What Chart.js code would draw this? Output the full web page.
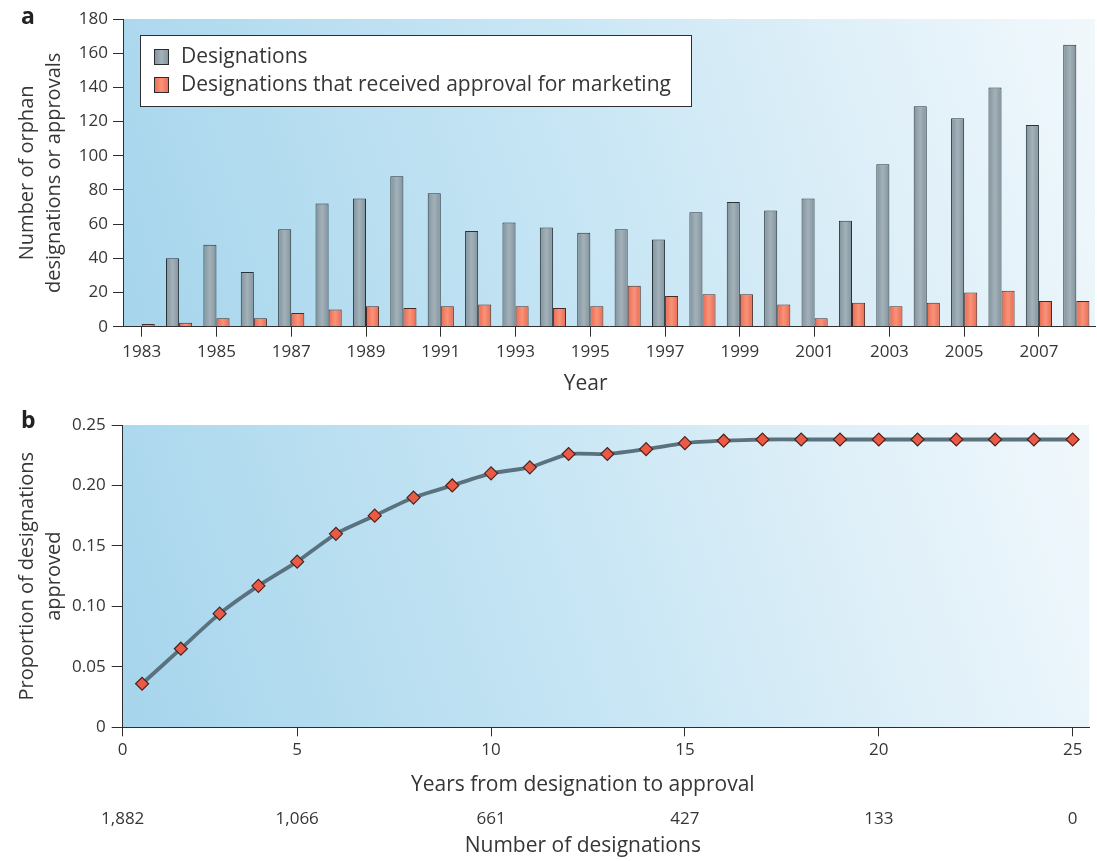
<!DOCTYPE html>
<html>
<head>
<meta charset="utf-8">
<title>Orphan designations and approvals</title>
<script src="https://cdn.jsdelivr.net/npm/chart.js@4.4.1/dist/chart.umd.min.js"></script>
<style>
  html, body { margin: 0; padding: 0; background: #ffffff; }
  #wrap { position: relative; width: 1097px; height: 861px; overflow: hidden; }
  .panel { position: absolute; left: 0; width: 1097px; }
  #panelA { top: 0; height: 400px; }
  #panelB { top: 400px; height: 461px; }
  .tag { position: absolute; font: bold 23px "Open Sans", sans-serif; line-height: 23px; color: #222; }
</style>
</head>
<body>
<div id="wrap">
  <div class="panel" id="panelA"><canvas id="chartA"></canvas></div>
  <div class="panel" id="panelB"><canvas id="chartB"></canvas></div>
  <div class="tag" style="left:21px;top:4px">a</div>
  <div class="tag" style="left:21px;top:408px">b</div>
</div>
<script>
// ---- Panel a: orphan designations per year ----
const years = ['1983','1984','1985','1986','1987','1988','1989','1990','1991','1992','1993','1994','1995',
               '1996','1997','1998','1999','2000','2001','2002','2003','2004','2005','2006','2007','2008'];
const designations = [0, 40, 48, 32, 57, 72, 75, 88, 78, 56, 61, 58, 55, 57, 51, 67, 73, 68, 75, 62, 95, 129, 122, 140, 118, 165];
const approvals    = [1.6, 2.3, 5, 5, 8, 10, 12, 11, 12, 13, 12, 11, 12, 24, 18, 19, 19, 13, 5, 14, 12, 14, 20, 21, 15, 15];
const countTicks   = [0, 20, 40, 60, 80, 100, 120, 140, 160, 180];

// ---- Panel b: cumulative proportion approved ----
const yearsToApproval = [1, 2, 3, 4, 5, 6, 7, 8, 9, 10, 11, 12, 13, 14, 15, 16, 17, 18, 19, 20, 21, 22, 23, 24, 25];
const proportionApproved = [0.036, 0.065, 0.094, 0.117, 0.137, 0.160, 0.175, 0.190, 0.200, 0.210, 0.215, 0.226, 0.226,
                            0.230, 0.235, 0.237, 0.238, 0.238, 0.238, 0.238, 0.238, 0.238, 0.238, 0.238, 0.238];
const yearTicks = [0, 5, 10, 15, 20, 25];
const designationCounts = ['1,882', '1,066', '661', '427', '133', '0'];
const proportionTicks = [0, 0.05, 0.10, 0.15, 0.20, 0.25];

const INK = '#363636';
const AXIS = '#2e2e2e';
const FAMILY = '"Open Sans", "DejaVu Sans", sans-serif';

Chart.defaults.font.family = FAMILY;
Chart.defaults.color = INK;
Chart.defaults.animation = false;

const tickFont = { size: 17 };
const titleFont = { size: 20, lineHeight: 1.35 };

// light blue wash behind each plot area
const plotBackground = {
  id: 'plotBackground',
  beforeDraw(chart) {
    const { ctx, chartArea: a } = chart;
    const g = ctx.createLinearGradient(a.left, a.bottom, a.right, a.top);
    g.addColorStop(0, '#a6d5ec');
    g.addColorStop(0.45, '#c6e5f4');
    g.addColorStop(0.8, '#e2f1f9');
    g.addColorStop(1, '#f1f8fc');
    ctx.save();
    ctx.fillStyle = g;
    ctx.fillRect(a.left, a.top, a.right - a.left, a.bottom - a.top);
    ctx.restore();
  }
};

// axis captions placed along the bottom of a panel
const captions = {
  id: 'captions',
  afterDraw(chart, args, opts) {
    const { ctx, chartArea: a } = chart;
    ctx.save();
    ctx.fillStyle = INK;
    ctx.textAlign = 'center';
    ctx.textBaseline = 'middle';
    ctx.font = opts.size + 'px ' + FAMILY;
    const cx = a.left + opts.centre * (a.right - a.left);
    opts.items.forEach(it => ctx.fillText(it.text, cx, it.y));
    ctx.restore();
  }
};

const greyShade = ['#82939d', '#a3b1b9'];
const orangeShade = ['#e96a50', '#f8937a'];

function swatchGradient(ctx, x, w, shade) {
  const g = ctx.createLinearGradient(x, 0, x + w, 0);
  g.addColorStop(0, shade[0]);
  g.addColorStop(0.5, shade[1]);
  g.addColorStop(1, shade[0]);
  return g;
}

// cylinder-like shading across each bar, from the bar's own geometry
const barShading = {
  id: 'barShading',
  beforeDatasetsDraw(chart) {
    const shades = [greyShade, orangeShade];
    chart.data.datasets.forEach((ds, di) => {
      chart.getDatasetMeta(di).data.forEach(el => {
        const { x, width } = el.getProps(['x', 'width'], true);
        el.options.backgroundColor = swatchGradient(chart.ctx, x - width / 2, width, shades[di]);
      });
    });
  }
};

// boxed legend inside the plot area of panel a
const boxLegend = {
  id: 'boxLegend',
  afterDatasetsDraw(chart) {
    const { ctx, chartArea: a } = chart;
    const x = a.left + 17, y = a.top + 16, w = 551, h = 71;
    ctx.save();
    ctx.fillStyle = '#ffffff';
    ctx.fillRect(x, y, w, h);
    ctx.strokeStyle = AXIS;
    ctx.lineWidth = 1;
    ctx.strokeRect(x + 0.5, y + 0.5, w, h);
    const shades = [greyShade, orangeShade];
    ctx.font = '21px ' + FAMILY;
    ctx.textBaseline = 'middle';
    chart.data.datasets.forEach((ds, i) => {
      const cy = y + 22 + i * 28;
      const sx = x + 14, sw = 15, sh = 16;
      ctx.fillStyle = swatchGradient(ctx, sx, sw, shades[i]);
      ctx.fillRect(sx, cy - sh / 2, sw, sh);
      ctx.strokeStyle = '#2b2b2b';
      ctx.strokeRect(sx + 0.5, cy - sh / 2 + 0.5, sw - 1, sh - 1);
      ctx.fillStyle = INK;
      ctx.fillText(ds.label, x + 41, cy);
    });
    ctx.restore();
  }
};

new Chart(document.getElementById('chartA'), {
  type: 'bar',
  data: {
    labels: years,
    datasets: [
      { label: 'Designations', data: designations, backgroundColor: () => greyShade[1],
        borderColor: '#27333a', borderWidth: 1, borderSkipped: 'bottom' },
      { label: 'Designations that received approval for marketing', data: approvals,
        backgroundColor: () => orangeShade[1], borderColor: '#4a2a22', borderWidth: 1, borderSkipped: 'bottom' }
    ]
  },
  options: {
    responsive: true,
    maintainAspectRatio: false,
    layout: { padding: { top: 19, right: 2, left: 0, bottom: 0 } },
    datasets: { bar: { categoryPercentage: 0.7, barPercentage: 1.0 } },
    plugins: {
      legend: { display: false }, tooltip: { enabled: false },
      captions: { size: 21, centre: 0.476, items: [{ text: 'Year', y: 384 }] }
    },
    scales: {
      x: {
        grid: { drawOnChartArea: false, drawTicks: true, tickLength: 10, offset: false, color: AXIS },
        border: { display: true, color: AXIS, width: 1 },
        ticks: { autoSkip: false, maxRotation: 0, padding: 5, font: tickFont,
                 callback: (v, i) => (i % 2 === 0 ? years[i] : null) },
        afterFit: (s) => { s.height = 73.3; }
      },
      y: {
        min: 0, max: 180,
        afterBuildTicks: (s) => { s.ticks = countTicks.map(v => ({ value: v })); },
        grid: { drawOnChartArea: false, drawTicks: true, tickLength: 10, color: AXIS },
        border: { display: true, color: AXIS, width: 1 },
        ticks: { padding: 5, font: tickFont },
        title: { display: true, text: ['Number of orphan', 'designations or approvals'], font: titleFont,
                 padding: { top: 14, bottom: 0 } },
        afterFit: (s) => { s.width = 123; }
      }
    }
  },
  plugins: [plotBackground, barShading, boxLegend, captions]
});

new Chart(document.getElementById('chartB'), {
  type: 'line',
  data: {
    datasets: [{
      label: 'Proportion of designations approved',
      data: yearsToApproval.map((t, i) => ({ x: t, y: proportionApproved[i] })),
      borderColor: '#5a717e',
      borderWidth: 3.8,
      tension: 0.2,
      pointStyle: 'rectRot',
      pointRadius: 6.5,
      pointBackgroundColor: '#eb5a46',
      pointBorderColor: '#4b241d',
      pointBorderWidth: 1.2
    }]
  },
  options: {
    responsive: true,
    maintainAspectRatio: false,
    layout: { padding: { top: 25, right: 2, left: 0, bottom: 0 } },
    plugins: {
      legend: { display: false }, tooltip: { enabled: false },
      captions: { size: 21, centre: 0.476, items: [
        { text: 'Years from designation to approval', y: 385 },
        { text: 'Number of designations', y: 446 }
      ] }
    },
    scales: {
      x: {
        type: 'linear', min: 0.5, max: 25.43, weight: 0,
        afterBuildTicks: (s) => { s.ticks = yearTicks.map(v => ({ value: Math.max(v, s.min) })); },
        grid: { drawOnChartArea: false, drawTicks: true, tickLength: 9, color: AXIS },
        border: { display: true, color: AXIS, width: 1 },
        ticks: { padding: 4, font: tickFont, callback: (v, i) => String(yearTicks[i]) },
        afterFit: (s) => { s.height = 72.7; }
      },
      x2: {
        type: 'linear', position: 'bottom', min: 0.5, max: 25.43, weight: 1,
        afterBuildTicks: (s) => { s.ticks = yearTicks.map(v => ({ value: Math.max(v, s.min) })); },
        grid: { display: false, drawTicks: false },
        border: { display: false },
        ticks: { padding: 9, font: tickFont, callback: (v, i) => designationCounts[i] },
        afterFit: (s) => { s.height = 61; }
      },
      y: {
        min: 0, max: 0.25,
        afterBuildTicks: (s) => { s.ticks = proportionTicks.map(v => ({ value: v })); },
        grid: { drawOnChartArea: false, drawTicks: true, tickLength: 11, color: AXIS },
        border: { display: true, color: AXIS, width: 1 },
        ticks: { padding: 6, font: tickFont, callback: (v) => (v === 0 ? '0' : v.toFixed(2)) },
        title: { display: true, text: ['Proportion of designations', 'approved'], font: titleFont,
                 padding: { top: 14, bottom: 0 } },
        afterFit: (s) => { s.width = 122.7; }
      }
    }
  },
  plugins: [plotBackground, captions]
});
</script>
</body>
</html>
